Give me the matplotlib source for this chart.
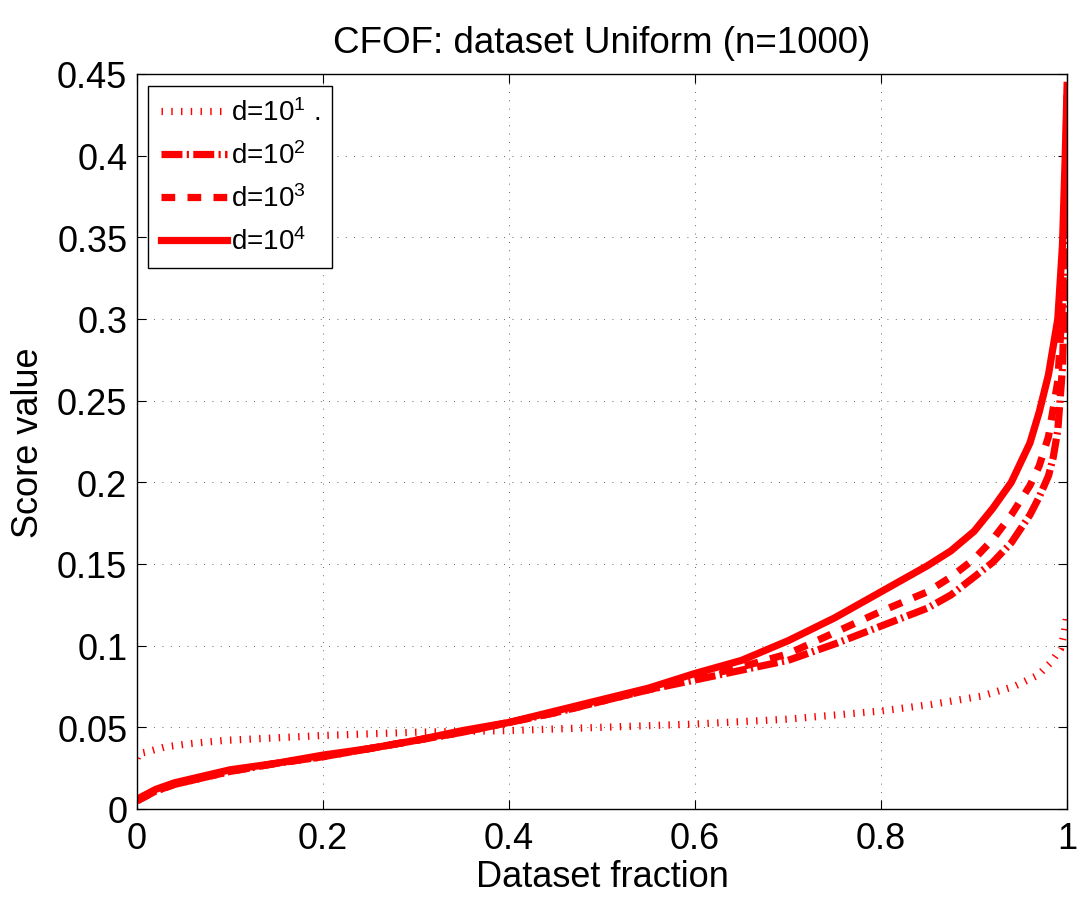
import matplotlib
matplotlib.use("Agg")
import matplotlib.pyplot as plt

plt.rcParams['font.family'] = ['Liberation Sans', 'DejaVu Sans']
plt.rcParams['mathtext.default'] = 'regular'

title = "CFOF: dataset Uniform (n=1000)"
xlabel = "Dataset fraction"
ylabel = "Score value"
labels = ["d=10$^1$ .", "d=10$^2$", "d=10$^3$", "d=10$^4$"]

# d = 10^1 (dotted)
x_d1 = [0.0, 0.002, 0.011, 0.03, 0.057, 0.094, 0.13, 0.2, 0.3, 0.4, 0.5, 0.6, 0.7,
        0.8, 0.854, 0.907, 0.943, 0.969, 0.983, 0.993, 0.997, 1.0]
y_d1 = [0.031, 0.034, 0.035, 0.038, 0.040, 0.042, 0.043, 0.045, 0.047, 0.048, 0.050, 0.052, 0.055,
        0.060, 0.064, 0.069, 0.075, 0.082, 0.090, 0.098, 0.108, 0.120]

# common fraction grid for the high-dimensional curves
x_hi = [0.0, 0.02, 0.04, 0.07, 0.1, 0.15, 0.2, 0.25, 0.3, 0.35, 0.4, 0.45, 0.5, 0.55,
        0.6, 0.65, 0.7, 0.75, 0.8, 0.85, 0.875, 0.9, 0.92, 0.94, 0.96, 0.97, 0.98,
        0.985, 0.99, 0.995, 0.998, 1.0]

# d = 10^2 (dash-dot)
y_d2 = [0.005, 0.011, 0.015, 0.019, 0.023, 0.028, 0.032, 0.037, 0.042, 0.047, 0.053, 0.059, 0.066, 0.073,
        0.079, 0.085, 0.091, 0.101, 0.112, 0.123, 0.131, 0.142, 0.151, 0.163, 0.180, 0.191, 0.204,
        0.215, 0.232, 0.270, 0.330, 0.420]

# d = 10^3 (dashed)
y_d3 = [0.005, 0.011, 0.015, 0.019, 0.023, 0.028, 0.032, 0.037, 0.042, 0.047, 0.053, 0.059, 0.066, 0.073,
        0.080, 0.087, 0.095, 0.108, 0.121, 0.133, 0.142, 0.153, 0.165, 0.180, 0.198, 0.210, 0.228,
        0.245, 0.262, 0.310, 0.370, 0.440]

# d = 10^4 (solid)
y_d4 = [0.006, 0.012, 0.016, 0.020, 0.024, 0.028, 0.033, 0.037, 0.042, 0.048, 0.053, 0.060, 0.067, 0.074,
        0.083, 0.091, 0.103, 0.117, 0.133, 0.149, 0.158, 0.170, 0.184, 0.200, 0.224, 0.243, 0.266,
        0.283, 0.300, 0.345, 0.400, 0.443]

xticks = [0, 0.2, 0.4, 0.6, 0.8, 1]
xticklabels = ["0", "0.2", "0.4", "0.6", "0.8", "1"]
yticks = [0, 0.05, 0.1, 0.15, 0.2, 0.25, 0.3, 0.35, 0.4, 0.45]
yticklabels = ["0", "0.05", "0.1", "0.15", "0.2", "0.25", "0.3", "0.35", "0.4", "0.45"]

fig = plt.figure(figsize=(10.86, 9.03), dpi=100)
ax = fig.add_axes([0.1262, 0.1030, 0.8564, 0.8140])

red = '#ff0000'
lw = 5.2
ax.plot(x_d1, y_d1, color=red, lw=lw, linestyle=(0, (0.2, 1.15)), label=labels[0])
ax.plot(x_hi, y_d2, color=red, lw=lw, linestyle=(0, (2.9, 0.6, 0.3, 0.6)), label=labels[1])
ax.plot(x_hi, y_d3, color=red, lw=lw, linestyle=(0, (1.9, 1.7)), label=labels[2])
ax.plot(x_hi, y_d4, color=red, lw=lw, linestyle='-', label=labels[3])

ax.set_xlim(0, 1)
ax.set_ylim(0, 0.45)
ax.set_xticks(xticks)
ax.set_xticklabels(xticklabels)
ax.set_yticks(yticks)
ax.set_yticklabels(yticklabels)
ax.tick_params(direction='in', length=6.5, width=0.8, top=True, right=True,
               labelsize=26, pad=7)
ax.tick_params(axis='x', pad=9)
for s in ax.spines.values():
    s.set_linewidth(1.0)
ax.grid(True, color='k', lw=0.6, linestyle=(0, (1, 9)), alpha=0.8)
ax.set_axisbelow(True)

ax.set_title(title, fontsize=26.5, pad=16)
ax.set_xlabel(xlabel, fontsize=26, labelpad=2)
ax.set_ylabel(ylabel, fontsize=26, labelpad=8)

leg = ax.legend(loc='upper left', bbox_to_anchor=(0.0118, 0.9837), borderaxespad=0,
                fontsize=20, handlelength=2.4, handletextpad=0.12, labelspacing=0.55,
                borderpad=0.45, fancybox=False, framealpha=1, edgecolor='k')
leg.get_frame().set_linewidth(1.0)

fig.savefig("out.png", dpi=100)
